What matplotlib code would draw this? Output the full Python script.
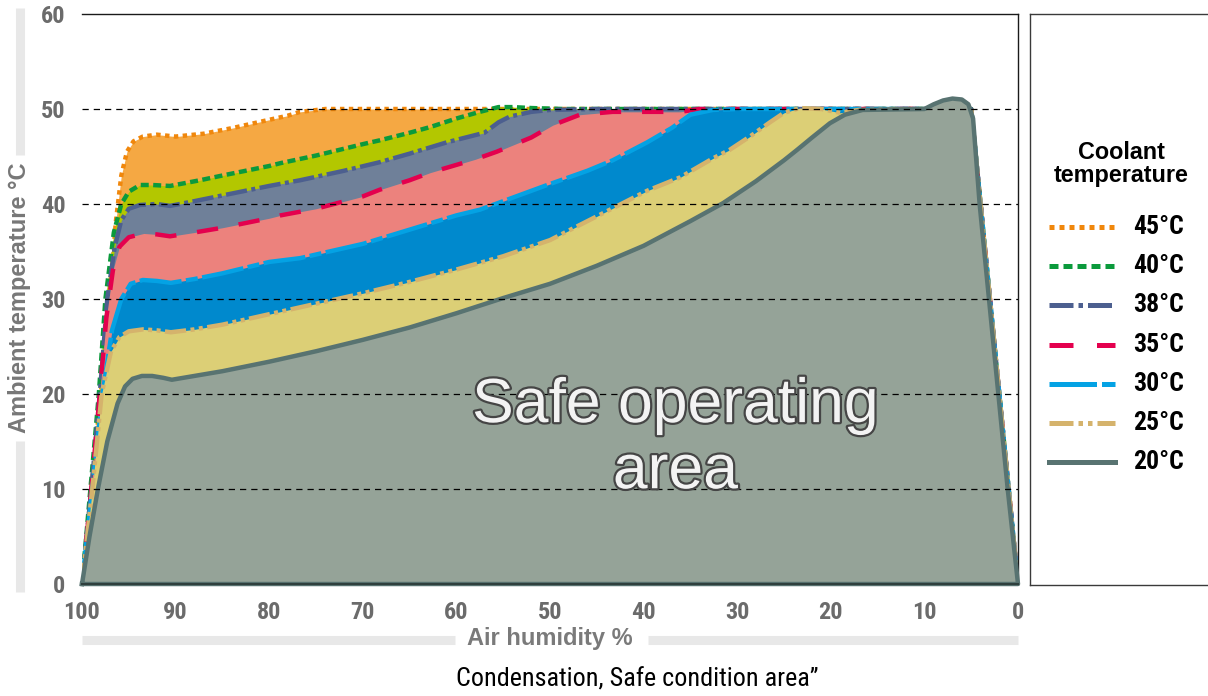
import matplotlib
matplotlib.use("Agg")
import matplotlib.pyplot as plt
import matplotlib.patheffects as pe
from matplotlib import font_manager
from matplotlib.lines import Line2D

# Boundary of the safe area for each coolant temperature:
# air humidity (%) -> ambient temperature (°C)
hum_45 = [100, 99, 98, 97, 96.4, 95.8, 95.2, 94.5, 93.5, 92, 90, 87, 83.9, 80.3, 78, 76.7, 74, 60, 40, 20, 5, 0]
temp_45 = [0, 10, 20, 30, 38, 43, 45.5, 46.6, 47.1, 47.3, 47.1, 47.4, 48, 48.8, 49.3, 49.7, 50, 50, 50, 50, 50, 0]

hum_40 = [100, 99.1, 98.2, 97.5, 96.6, 95.8, 95, 93.8, 92.5, 90.6, 87.4, 85, 80, 78.8, 75, 70, 68.2, 65, 62.8,
          60, 57.5, 55.5, 54, 52, 48.6, 30, 5, 0]
temp_40 = [0, 10, 20, 30, 37, 40, 41.3, 42, 42, 41.9, 42.5, 43, 44, 44.3, 45.1, 46.3, 46.7, 47.5, 48.1,
           49, 49.7, 50.2, 50.2, 50.1, 50, 50, 50, 0]

hum_38 = [100, 99, 98.1, 97.3, 96.5, 95.8, 95, 93.8, 92, 90.6, 88, 85, 80, 76.7, 72, 68.2, 65, 61,
          57, 55.5, 54.3, 52, 50, 45, 5, 0]
temp_38 = [0, 10, 20, 30, 35.5, 38.3, 39.5, 39.9, 40, 39.8, 40.3, 40.9, 41.9, 42.5, 43.5, 44.4, 45.3, 46.5,
           47.5, 48.6, 49.2, 49.7, 49.9, 50, 50, 0]

hum_35 = [100, 99, 98.1, 97.4, 96.7, 96, 95, 93.4, 92, 90.6, 88, 85, 80, 78.8, 75, 70, 68.2, 65, 62.8,
          58, 55.7, 52, 49.7, 46.8, 43.3, 36.1, 34, 5, 0]
temp_35 = [0, 10, 20, 28, 33, 35.5, 36.5, 36.9, 36.8, 36.6, 37, 37.5, 38.5, 38.8, 39.5, 40.8, 41.5, 42.5, 43.3,
           44.7, 45.5, 47, 48.3, 49.4, 49.7, 49.7, 50, 50, 0]

hum_30 = [100, 98.9, 97.8, 96.8, 95.8, 94.8, 93.5, 92, 90.5, 88, 85, 80, 76.7, 70, 65, 60, 57.5, 55,
          50.3, 46, 43.3, 39.6, 37, 35, 32.6, 30, 5, 0]
temp_30 = [0, 10, 20, 26.7, 30, 31.6, 32, 31.9, 31.7, 32.1, 32.7, 33.9, 34.3, 35.8, 37.3, 38.8, 39.4, 40.3,
           42, 43.5, 44.6, 46.5, 48, 49.4, 49.9, 50, 50, 0]

hum_25 = [100, 98.9, 97.9, 96.9, 96, 95, 93.5, 92, 90.5, 88, 85, 80, 75, 70, 65, 60, 55, 50, 46.8, 43,
          39.6, 36.1, 32.6, 30.8, 28.5, 26.5, 25, 23.3, 21, 19, 17, 10, 5, 0]
temp_25 = [0, 10, 20, 24.5, 26, 26.6, 26.8, 26.7, 26.5, 26.8, 27.3, 28.4, 29.5, 30.6, 31.8, 33.1, 34.5, 36.2,
           37.8, 39.7, 41.4, 42.8, 44.8, 45.7, 47.2, 48.6, 49.6, 50.1, 50, 49.6, 49.9, 50, 50, 0]

hum_20 = [100, 99.2, 98.3, 97.3, 96.2, 95.4, 94.6, 93.6, 92.5, 91.3, 90.4, 88, 85, 80, 75, 70, 65, 60, 55,
          50, 45, 40, 35, 31.5, 28, 25, 23.6, 22, 20.1, 18.5, 16.6, 10, 9, 8, 7, 6, 5.3, 4.8, 4.1, 1.1, 0]
temp_20 = [0, 5, 10, 15, 19, 20.8, 21.6, 21.9, 21.9, 21.7, 21.5, 21.9, 22.4, 23.4, 24.5, 25.7, 27, 28.5, 30.1,
           31.6, 33.5, 35.6, 38.2, 40.1, 42.4, 44.6, 45.7, 47, 48.5, 49.4, 49.9, 50, 50.5, 50.9, 51.1, 51, 50.5,
           49, 40, 10, 0]

coolant_labels = ["45°C", "40°C", "38°C", "35°C", "30°C", "25°C", "20°C"]
humidity_sets = [hum_45, hum_40, hum_38, hum_35, hum_30, hum_25, hum_20]
temperature_sets = [temp_45, temp_40, temp_38, temp_35, temp_30, temp_25, temp_20]

line_colors = ["#f0870c", "#0b9a3c", "#4c5f8f", "#e4004e", "#04a2e4", "#d5b36c", "#587371"]
fill_colors = ["#f5a843", "#b3c700", "#6f8099", "#ec827d", "#0089cd", "#dccf76", "#95a398"]
# dash patterns given in units of line width
line_styles = [(0, (1, 1)), (0, (1.8, 1.0)), (0, (4.8, 1, 0.9, 1)), (0, (4.8, 4.7)),
               (0, (9.5, 1, 2.7, 1)), (0, (4.8, 1, 0.9, 1, 0.9, 1)), "-"]

humidity_ticks = list(range(100, -1, -10))
temperature_ticks = list(range(0, 61, 10))

installed = {f.name for f in font_manager.fontManager.ttflist}
narrow = next((n for n in ["Liberation Sans Narrow", "Roboto Condensed", "Arial Narrow"] if n in installed),
              "Liberation Sans")
wide = "Liberation Sans" if "Liberation Sans" in installed else "DejaVu Sans"

W, H = 1208, 696
fig = plt.figure(figsize=(W / 100, H / 100), dpi=100)


def px_rect(x0, y0, x1, y1):
    # figure rectangle from pixel edges (y measured from the top)
    return [x0 / W, 1 - y1 / H, (x1 - x0) / W, (y1 - y0) / H]


def px_line(x0, y0, x1, y1, **kw):
    fig.add_artist(Line2D([x0 / W, x1 / W], [1 - y0 / H, 1 - y1 / H], solid_capstyle="butt", **kw))


ax = fig.add_axes(px_rect(82, 14, 1018, 584))
ax.set_xlim(100, 0)
ax.set_ylim(0, 60)

for i, (hum, temp) in enumerate(zip(humidity_sets, temperature_sets)):
    z = 2 + 2 * i
    ax.fill_between(hum, temp, 0, color=fill_colors[i], lw=0, zorder=z)
    if i == len(humidity_sets) - 1:
        # lowest curve is outlined all round, bottom edge included
        ax.plot(hum + [hum[0]], temp + [temp[0]], color=line_colors[i], lw=3.2,
                solid_joinstyle="round", zorder=z + 1, clip_on=False)
    else:
        ax.plot(hum, temp, color=line_colors[i], lw=3.2, ls=line_styles[i],
                dash_joinstyle="round", zorder=z + 1)

for t in temperature_ticks[1:-1]:
    ax.axhline(t, color="black", lw=0.9, ls=(0, (5, 4)), zorder=30)

ax.set_xticks(humidity_ticks)
ax.set_yticks(temperature_ticks)
ax.tick_params(length=0, labelcolor="#6b6b6b", labelsize=17.5)
ax.tick_params(axis="x", pad=12)
ax.tick_params(axis="y", pad=12)
for lab in ax.get_xticklabels() + ax.get_yticklabels():
    lab.set_fontfamily(narrow)
    lab.set_fontweight("bold")

for side in ["top", "right"]:
    ax.spines[side].set_color("#1a1a1a")
    ax.spines[side].set_linewidth(1.0)
ax.spines["left"].set_visible(False)
ax.spines["bottom"].set_color("#2f3f3d")
ax.spines["bottom"].set_linewidth(1.5)
ax.spines["bottom"].set_zorder(40)

txt_fx = [pe.withStroke(linewidth=3.2, foreground="#454545")]
for label, yb in [("Safe operating", 0.284), ("area", 0.168)]:
    ax.text(0.634, yb, label, transform=ax.transAxes, ha="center", va="baseline",
            fontsize=45, family=wide, color="#f3f3f3", path_effects=txt_fx, zorder=50)

# axis titles sitting in gaps of light grey bars
bar = dict(color="#e8e8e8", lw=6.5)
px_line(20, 8, 20, 155, **bar)
px_line(20, 441, 20, 592, **bar)
px_line(82, 640, 455, 640, **bar)
px_line(648, 640, 1018, 640, **bar)
fig.text(20 / W, 1 - 298 / H, "Ambient temperature °C", rotation=90, ha="center", va="center",
         fontsize=17, fontweight="bold", family=wide, color="#777777")
fig.text(550 / W, 1 - 638 / H, "Air humidity %", ha="center", va="center",
         fontsize=17, fontweight="bold", family=wide, color="#7a7a7a")
fig.text(637 / W, 1 - 680 / H, "Condensation, Safe condition area\u201d", ha="center", va="center",
         fontsize=18.8, family=narrow, color="black")

# legend panel
lax = fig.add_axes(px_rect(1030, 14, 1215, 585))
lax.set_xlim(1030, 1215)
lax.set_ylim(585, 14)
lax.set_xticks([])
lax.set_yticks([])
for s in lax.spines.values():
    s.set_color("#3a3a3a")
    s.set_linewidth(1.0)
lax.text(1121, 164, "Coolant\ntemperature", ha="center", va="center", fontsize=16.8,
         fontweight="bold", family=wide, linespacing=1.0)
for i, label in enumerate(coolant_labels):
    y = 227 + i * 39.2
    lax.plot([1049, 1115], [y, y], color=line_colors[i], lw=3.6, ls=line_styles[i])
    lax.text(1133, y, label, ha="left", va="center", fontsize=18.5, fontweight="bold", family=narrow)

fig.savefig("out.png", dpi=100)
